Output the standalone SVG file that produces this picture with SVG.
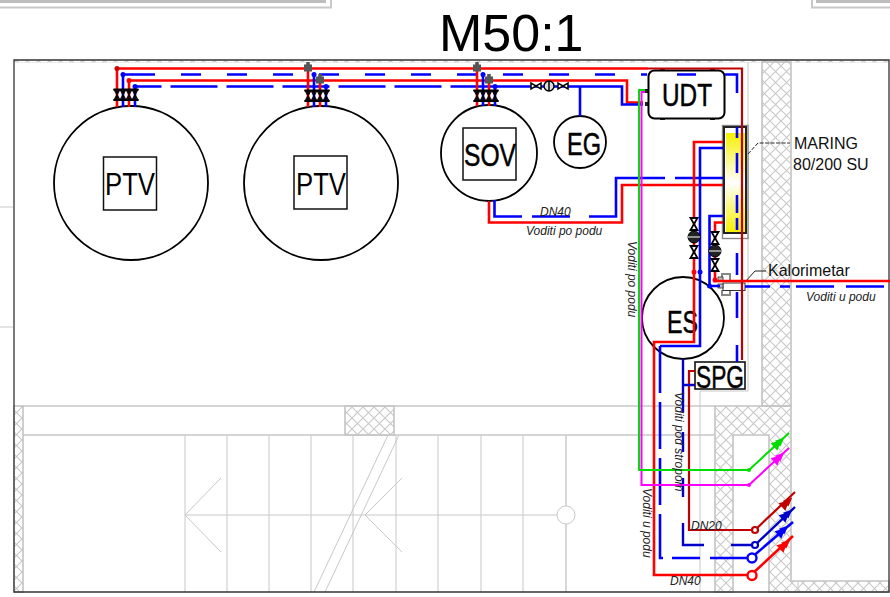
<svg xmlns="http://www.w3.org/2000/svg" width="890" height="597" viewBox="0 0 890 597">
<style>
.bg{fill:none;stroke:#c8c8c8;stroke-width:1}
.bgt{fill:none;stroke:#c8c8c8;stroke-width:1.4}
.wall{fill:url(#hatch);stroke:#c4c4c4;stroke-width:1.6}
.n{fill:#fff;stroke:#000;stroke-width:1.8}
.nb{fill:none;stroke:#111;stroke-width:1.5}
.lbl{font-family:"Liberation Sans",Arial,sans-serif;font-size:32px;fill:#000}
.hv{stroke:#000;stroke-width:.5}
.it{font-family:"Liberation Sans",Arial,sans-serif;font-style:italic;font-size:12px;fill:#222}
.tx{font-family:"Liberation Sans",Arial,sans-serif;font-size:16px;fill:#111}
.r,.dr,.b,.db,.g,.m,.lead{fill:none}
.r{stroke:#f00;stroke-width:2.6}
.dr{stroke:#c00000;stroke-width:2.2}
.b{stroke:#00f;stroke-width:2.6}
.db{stroke:#0000c8;stroke-width:2.4}
.g{stroke:#0d0;stroke-width:2}
.m{stroke:#f0f;stroke-width:2}
.lead{stroke:#222;stroke-width:1}
</style>
<defs>
<pattern id="hatch" width="11" height="11" patternUnits="userSpaceOnUse">
<path d="M0 0L11 11M11 0L0 11" stroke="#c8c8c8" stroke-width="1.1" fill="none"/>
</pattern>
<linearGradient id="yel" x1="0" y1="0" x2="0" y2="1">
<stop offset="0" stop-color="#f6f000"/><stop offset="0.5" stop-color="#fff"/><stop offset="1" stop-color="#f6f000"/>
</linearGradient>
<g id="manifold">
<path d="M-3 -5.500H3L-3 5H3ZM3 -5.500H9L3 5H9ZM9 -5.500H15L9 5H15ZM15 -5.500H21L15 5H21Z" fill="#000" stroke="#000" stroke-width="1.200" opacity=".9"/>
<path d="M-3.500 -5.500H21.500M-3.500 5H21.500" stroke="#000" stroke-width="2.200"/>
</g>
<path id="valve" d="M-3.500 -6H3.500L-3.500 6H3.500Z" fill="#fff" stroke="#000" stroke-width="1.800"/>
<path id="valveh" d="M-5 -3V3L5 -3V3Z" fill="#fff" stroke="#000" stroke-width="1.500"/>
<g id="pump"><circle r="6" fill="#222" stroke="#000"/><path d="M-6 0H6" stroke="#bbb" stroke-width="1.500"/></g>
<path id="ah" d="M0 -5L10 0L0 5ZM5 -4L14 0L5 4Z"/>
<path id="gjoint" d="M-1.800 -6H1.800V-3.500H4V3.500H-4V-3.500H-1.800Z" fill="#555"/>
</defs>

<g id="background">
<path class="bg" d="M0 7.500H331V0M812 0V7.500H890" style="stroke-width:2"/>
<path d="M0 1.500H326M816 1.500H890" stroke="#bdbdbd" stroke-width="3"/>
<path class="bg" d="M0 207H13M0 327H13"/>
<rect x="14" y="60" width="875" height="2.500" fill="url(#hatch)" stroke="#ddd" stroke-width=".5"/>
<path class="bg" d="M748 62V391H700V592"/>
<rect class="wall" x="762" y="62" width="29" height="344"/>
<path class="wall" d="M715 406H791V581H889V592H769V435H733V592H715Z"/>
<path class="bg" d="M798 581V592"/>
<rect class="wall" x="14" y="406" width="9" height="186"/>
<rect class="wall" x="345" y="406" width="49" height="29"/>
<path class="bgt" d="M23 406H715M23 435H715"/>
<path class="bg" d="M185 435V592M227 435V592M269 435V592M311 435V592M353 435V592M396 435V592M438 435V592M481 435V592M523 435V592"/>
<path class="bgt" d="M566 435V506M566 524V592"/>
<path class="bg" d="M185 515H557M185 515L221 478M185 515L221 552M365 515L402 478M365 515L402 552M388 435L314 592M399 435L325 592"/>
<circle class="bg" cx="566" cy="515" r="9"/>
<path d="M889 60H14V592H889Z" fill="none" stroke="#333" stroke-width="1.300"/>
</g>

<g id="title"><text x="439" y="51" style="font-family:'Liberation Sans',Arial,sans-serif;font-size:52px;fill:#000">M50:1</text></g>

<g id="ptv1">
<circle class="n" cx="131" cy="183" r="77"/><rect class="nb" x="103.500" y="157" width="53" height="53"/>
<text class="lbl" x="105" y="195" textLength="50" lengthAdjust="spacingAndGlyphs">PTV</text>
</g>
<g id="ptv2">
<circle class="n" cx="321" cy="183" r="77"/><rect class="nb" x="294" y="156" width="53" height="53"/>
<text class="lbl" x="296" y="195" textLength="50" lengthAdjust="spacingAndGlyphs">PTV</text>
</g>
<g id="sov">
<circle class="n" cx="489" cy="153" r="48"/><rect class="nb" x="463" y="128" width="53" height="52"/>
<text class="lbl hv" x="464" y="166" textLength="52" lengthAdjust="spacingAndGlyphs">SOV</text>
</g>
<g id="eg">
<circle class="n" cx="580" cy="142" r="26"/>
<text class="lbl hv" x="567" y="155" textLength="34" lengthAdjust="spacingAndGlyphs">EG</text>
</g>
<g id="es">
<circle class="n" cx="683" cy="318" r="41"/>
<text class="lbl hv" x="667" y="333" textLength="31" lengthAdjust="spacingAndGlyphs">ES</text>
</g>
<g id="spg">
<rect x="695" y="362" width="50" height="27" fill="#fff" stroke="#111" stroke-width="1.600"/>
<text class="lbl hv" x="696" y="388" textLength="48" lengthAdjust="spacingAndGlyphs">SPG</text>
</g>
<g id="udt">
<path d="M645 89h4v4h-4zM645 102h4v4h-4zM660 68h5v3h-5zM710 68h5v3h-5zM660 117h5v3h-5zM710 117h5v3h-5z" fill="#222"/>
<rect x="648.500" y="70.500" width="76" height="48" rx="6" fill="#fff" stroke="#000" stroke-width="2"/>
<text class="lbl hv" x="662" y="106" textLength="50" lengthAdjust="spacingAndGlyphs">UDT</text>
</g>
<g id="maring">
<rect x="722.500" y="125.500" width="25.500" height="113" fill="#fff" stroke="#888" stroke-width="1.400"/>
<rect x="724" y="127" width="22" height="106" fill="#fff" stroke="#222" stroke-width="2"/>
<rect x="726" y="133" width="19" height="99" fill="url(#yel)"/>
<path class="lead" d="M748 154L758 143H790" stroke-dasharray="4 1.500"/>
<text class="tx" x="794" y="149">MARING</text>
<text class="tx" x="793" y="170">80/200 SU</text>
</g>
<g id="kalorimetar">
<path d="M722 282V274H730V282M722 290V295H730V290" fill="none" stroke="#888" stroke-width="2"/>
<rect x="723" y="283" width="22" height="7.500" fill="#fff" stroke="#333" stroke-width="1"/>
<rect x="718" y="277" width="5" height="4" fill="#bbb" stroke="#333" stroke-width=".8"/>
<rect x="718" y="284" width="5" height="4" fill="#bbb" stroke="#333" stroke-width=".8"/>
<path class="lead" d="M745 282L755 271H766"/>
<text class="tx" x="768" y="276">Kalorimetar</text>
</g>

<g id="connectors">
<path class="r" d="M117 107V68.500H648"/>
<path class="dr" d="M648 68.500H742V360"/>
<path class="b" d="M123 107V74.500H155"/>
<path class="b" d="M181 74.500H647" stroke-dasharray="20 26"/>
<path class="b" d="M677 74.500H696M725 74.500H737V93M737 127V138M737 153V173M737 195V213M737 218V230M737 253V275M737 292V318M737 345V362"/>
<path class="r" d="M129 107V80.500H627V102.500H643"/>
<path class="b" d="M135 107V86.500H480" stroke-dasharray="47 9"/>
<path class="b" d="M480 86.500H622V104.500H643"/>
<path class="r" d="M308 107V68.500"/><path class="b" d="M314 107V74.500"/><path class="r" d="M320 107V80.500"/><path class="b" d="M326 107V86.500"/>
<path class="r" d="M477 106V68.500"/><path class="b" d="M483 106V74.500"/><path class="r" d="M489 106V80.500"/><path class="b" d="M495 106V86.500"/>
<path class="b" d="M580 87V116"/>
<path class="r" d="M489 201V222.500H622V185H723"/>
<path class="b" d="M494.500 200V216.500H522M532 216.500H570M589 216.500H616V178H665M675 178H723"/>
<path class="r" d="M723 142H694V342H654V575H751L793 536"/>
<path class="b" d="M723 148H700V346H660"/>
<path class="b" d="M660 346V558H700M710 558H751" stroke-dasharray="47 9"/>
<path class="b" d="M751 558L793 522"/>
<path class="b" d="M723 216H709.500V286H720"/>
<path class="r" d="M723 222.500H715V281H890"/>
<path class="b" d="M745 286.500H770M780 286.500H790M796 286.500H834M846 286.500H884"/>
<path class="dr" d="M695 371H689V530H755L795 492"/>
<path class="db" d="M683 359V412M683 432V452M683 478V497M683 523V545H704M731 545H755L795 507M683 385H695"/>
<path class="m" d="M645 92H641.500V485H749L789 448"/>
<path class="g" d="M645 90H639V470H749L789 433"/>
<g fill="#d00000"><circle cx="117" cy="68.500" r="2.500"/></g>
<g fill="#f00"><circle cx="129" cy="80.500" r="2.500"/><circle cx="694" cy="272" r="2.500"/><circle cx="715" cy="280" r="2.500"/></g>
<g fill="#00f"><circle cx="123" cy="74.500" r="2.500"/><circle cx="135" cy="86.500" r="2.500"/><circle cx="314" cy="74.500" r="2.500"/><circle cx="326" cy="86.500" r="2.500"/><circle cx="483" cy="74.500" r="2.500"/><circle cx="495" cy="86.500" r="2.500"/><circle cx="700" cy="272" r="2.500"/><circle cx="709.500" cy="286" r="2.500"/></g>
<use href="#gjoint" x="308" y="68"/><use href="#gjoint" x="320" y="80"/><use href="#gjoint" x="477" y="68"/><use href="#gjoint" x="489" y="80"/>
<use href="#manifold" x="117" y="95"/><use href="#manifold" x="308" y="96"/><use href="#manifold" x="477" y="96"/>
<use href="#valveh" x="536" y="86"/><use href="#valveh" x="563" y="86"/>
<circle cx="549" cy="86" r="5" fill="#ddd" stroke="#000" stroke-width="1.500"/><path d="M549 81V91" stroke="#000" stroke-width="1.500"/>
<use href="#valve" x="694" y="224"/><use href="#pump" x="694" y="237"/><use href="#valve" x="694" y="252"/>
<use href="#valve" x="715" y="238"/><use href="#pump" x="715" y="251"/><use href="#valve" x="715" y="265"/>
<circle cx="752" cy="575.500" r="4.500" fill="#fff" stroke="#f00" stroke-width="2.400"/>
<circle cx="752" cy="558" r="4.500" fill="#fff" stroke="#00f" stroke-width="2.400"/>
<circle cx="755" cy="545" r="3" fill="#fff" stroke="#0000c8" stroke-width="2.200"/>
<circle cx="755" cy="530" r="3" fill="#fff" stroke="#c00000" stroke-width="2.200"/>
<circle cx="749" cy="470" r="2" fill="#0d0"/><circle cx="749" cy="485" r="2" fill="#f0f"/>
<use href="#ah" transform="translate(774 447) rotate(-43)" fill="#0d0"/>
<use href="#ah" transform="translate(774 462) rotate(-43)" fill="#f0f"/>
<use href="#ah" transform="translate(782 507) rotate(-43)" fill="#c00000"/>
<use href="#ah" transform="translate(782 519) rotate(-43)" fill="#0000c8"/>
<use href="#ah" transform="translate(778 535) rotate(-43)" fill="#00f"/>
<use href="#ah" transform="translate(780 549) rotate(-43)" fill="#f00"/>
</g>

<g id="labels">
<text class="it" x="540" y="216">DN40</text>
<text class="it" x="526" y="235">Voditi po podu</text>
<text class="it" transform="translate(628 241) rotate(90)">Voditi po podu</text>
<text class="it" x="806" y="301">Voditi u podu</text>
<text class="it" transform="translate(675 392) rotate(90)">Voditi pod stropom</text>
<text class="it" transform="translate(643 488) rotate(90)">Voditi u podu</text>
<text class="it" x="691" y="530">DN20</text>
<text class="it" x="670" y="585">DN40</text>
</g>
</svg>
